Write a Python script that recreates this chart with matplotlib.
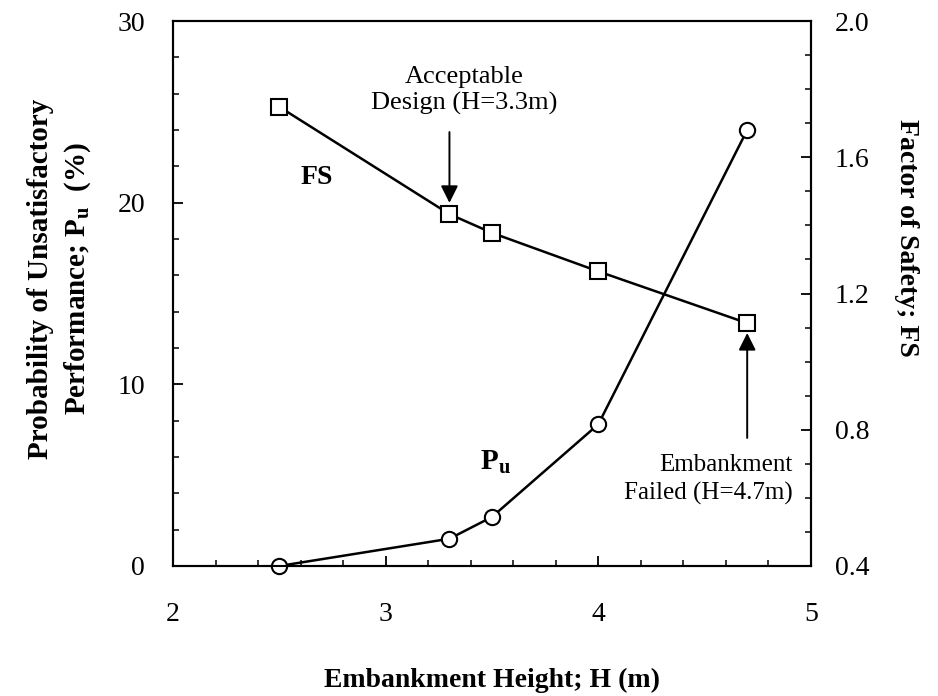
import matplotlib
matplotlib.use("Agg")
import matplotlib.pyplot as plt
from matplotlib.ticker import MultipleLocator, FormatStrFormatter

plt.rcParams["font.family"] = "Liberation Serif"
plt.rcParams["mathtext.fontset"] = "custom"
plt.rcParams["mathtext.rm"] = "Liberation Serif"
plt.rcParams["mathtext.bf"] = "Liberation Serif:bold"

# --- data ---
heights = [2.5, 3.3, 3.5, 4.0, 4.7]
pu_pct = [0.0, 1.5, 2.7, 7.8, 24.0]
fs = [1.748, 1.433, 1.378, 1.265, 1.113]

fig = plt.figure(figsize=(9.38, 6.96), dpi=100)
ax = fig.add_axes([0.1844, 0.1868, 0.6802, 0.7830])
ax2 = ax.twinx()

ax.plot(heights, pu_pct, color="black", lw=1.8, marker="o", ms=11,
        mfc="white", mec="black", mew=1.5, zorder=3, clip_on=False)
ax2.plot(heights, fs, color="black", lw=1.8, marker="s", ms=11,
         mfc="white", mec="black", mew=1.5, zorder=3, clip_on=False)

ax.set_xlim(2, 5)
ax.set_ylim(0, 30)
ax2.set_ylim(0.4, 2.0)
ax.xaxis.set_major_locator(MultipleLocator(1))
ax.xaxis.set_minor_locator(MultipleLocator(0.2))
ax.yaxis.set_major_locator(MultipleLocator(10))
ax.yaxis.set_minor_locator(MultipleLocator(2))
ax2.yaxis.set_major_locator(MultipleLocator(0.4))
ax2.yaxis.set_minor_locator(MultipleLocator(0.1))
ax2.yaxis.set_major_formatter(FormatStrFormatter("%.1f"))

for a in (ax, ax2):
    for s in a.spines.values():
        s.set_linewidth(1.5)
ax.tick_params(axis="both", which="major", direction="in", length=7, width=1.3,
               labelsize=20)
ax.tick_params(axis="both", which="minor", direction="in", length=4, width=1.1)
ax.tick_params(axis="x", which="major", pad=26)
ax.tick_params(axis="y", which="major", pad=20)
ax.tick_params(axis="y", right=False, which="both")
ax2.tick_params(axis="y", which="major", direction="in", length=7, width=1.3,
                labelsize=20, pad=17)
ax2.tick_params(axis="y", which="minor", direction="in", length=4, width=1.1)

# axis titles
fig.text(0.524, 0.023, "Embankment Height; H (m)", fontsize=20,
         fontweight="bold", ha="center", va="center")
fig.text(0.064, 0.600, "Probability of Unsatisfactory\n"
         r"Performance; $\mathbf{P_u}$  (%)", fontsize=21, fontweight="bold",
         rotation=90, ha="center", va="center", linespacing=1.35)
fig.text(0.966, 0.658, "Factor of Safety; FS", fontsize=20, fontweight="bold",
         rotation=270, ha="center", va="center")

# curve labels
ax2.text(2.677, 1.542, "FS", fontsize=20, fontweight="bold", ha="center",
         va="center")
ax.text(3.443, 5.3, r"$\mathbf{P_u}$", fontsize=21, ha="left",
        va="baseline")

# annotations
arrow = dict(arrowstyle="-|>", color="black", lw=1.4, mutation_scale=26,
             shrinkA=0, shrinkB=0)
ax2.text(3.37, 1.724, "Acceptable\nDesign (H=3.3m)", ha="center", va="bottom",
         fontsize=19, linespacing=1.25)
ax2.annotate("", xy=(3.3, 1.466), xytext=(3.3, 1.674), arrowprops=arrow)
ax2.text(4.915, 0.73, "Embankment\nFailed (H=4.7m)", ha="right", va="top",
         fontsize=18, linespacing=1.35)
ax2.annotate("", xy=(4.7, 1.084), xytext=(4.7, 0.776), arrowprops=arrow)

fig.savefig("out.png", dpi=100, facecolor="white")
